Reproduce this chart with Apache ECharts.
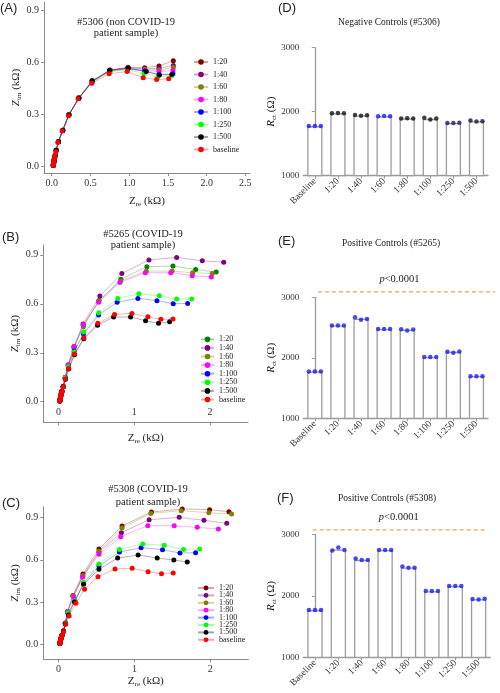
<!DOCTYPE html>
<html><head><meta charset="utf-8">
<script src="https://cdn.jsdelivr.net/npm/echarts@6/dist/echarts.min.js"></script>
<style>html,body{margin:0;padding:0;background:#fff}#c{width:500px;height:693px}</style>
</head><body><div id="c"></div>
<script>
// ---------------- DATA ----------------
const dilutions = ['1:20','1:40','1:60','1:80','1:100','1:250','1:500','baseline'];
const barCategories = ['Baseline','1:20','1:40','1:60','1:80','1:100','1:250','1:500'];

// Panel A (#5306) Nyquist: Zre / Zim (kOhm), one row per dilution
const aZre = [
 [0.02,0.022,0.025,0.028,0.032,0.037,0.045,0.058,0.087,0.142,0.222,0.35,0.52,0.755,0.985,1.2,1.385,1.57],
 [0.02,0.022,0.025,0.028,0.032,0.037,0.045,0.058,0.087,0.142,0.222,0.35,0.52,0.755,0.985,1.2,1.385,1.57],
 [0.02,0.022,0.025,0.028,0.032,0.037,0.045,0.058,0.087,0.142,0.222,0.35,0.52,0.755,0.985,1.2,1.385,1.57],
 [0.02,0.022,0.025,0.028,0.032,0.037,0.045,0.058,0.087,0.142,0.222,0.35,0.52,0.755,0.985,1.2,1.385,1.565],
 [0.02,0.022,0.025,0.028,0.032,0.037,0.045,0.058,0.087,0.142,0.222,0.35,0.522,0.75,0.98,1.2,1.385,1.565],
 [0.02,0.022,0.025,0.028,0.032,0.037,0.045,0.058,0.087,0.142,0.222,0.35,0.52,0.755,0.98,1.19,1.37,1.55],
 [0.02,0.022,0.025,0.028,0.032,0.037,0.045,0.058,0.087,0.142,0.222,0.35,0.522,0.746,0.987,1.22,1.39,1.55],
 [0.018,0.02,0.023,0.026,0.03,0.035,0.042,0.052,0.078,0.134,0.216,0.34,0.517,0.741,0.974,1.181,1.354,1.51]
];
const aZim = [
 [0.004,0.01,0.018,0.027,0.037,0.048,0.062,0.092,0.142,0.208,0.298,0.395,0.49,0.556,0.572,0.57,0.58,0.61],
 [0.004,0.01,0.018,0.027,0.037,0.048,0.062,0.092,0.142,0.207,0.297,0.394,0.49,0.555,0.57,0.563,0.566,0.582],
 [0.004,0.01,0.018,0.027,0.037,0.048,0.062,0.092,0.141,0.206,0.296,0.393,0.489,0.554,0.568,0.56,0.556,0.571],
 [0.004,0.01,0.018,0.027,0.037,0.048,0.062,0.092,0.141,0.206,0.296,0.393,0.488,0.552,0.565,0.553,0.548,0.553],
 [0.004,0.01,0.018,0.027,0.037,0.048,0.062,0.092,0.142,0.208,0.298,0.396,0.49,0.552,0.563,0.55,0.53,0.534],
 [0.004,0.01,0.018,0.027,0.037,0.048,0.062,0.092,0.141,0.206,0.297,0.394,0.487,0.548,0.558,0.535,0.516,0.524],
 [0.004,0.01,0.018,0.027,0.037,0.048,0.062,0.092,0.141,0.206,0.296,0.393,0.495,0.555,0.567,0.547,0.528,0.53],
 [0.003,0.009,0.017,0.026,0.036,0.047,0.06,0.083,0.137,0.203,0.292,0.39,0.48,0.534,0.547,0.512,0.501,0.505]
];

// Panel B (#5265)
const bZre = [
 [0.018,0.021,0.025,0.029,0.034,0.04,0.046,0.065,0.09,0.13,0.205,0.33,0.535,0.823,1.166,1.51,1.81,2.08],
 [0.018,0.021,0.025,0.029,0.034,0.04,0.046,0.065,0.09,0.13,0.205,0.325,0.546,0.836,1.193,1.559,1.897,2.18],
 [0.018,0.021,0.025,0.029,0.034,0.04,0.046,0.065,0.09,0.13,0.205,0.328,0.53,0.82,1.16,1.5,1.77,2.03],
 [0.018,0.021,0.025,0.029,0.034,0.04,0.046,0.065,0.09,0.127,0.206,0.325,0.53,0.81,1.145,1.48,1.765,2.016],
 [0.018,0.021,0.025,0.029,0.034,0.04,0.046,0.063,0.088,0.13,0.206,0.33,0.529,0.774,1.048,1.299,1.514,1.704],
 [0.018,0.021,0.025,0.029,0.034,0.04,0.046,0.063,0.088,0.13,0.206,0.334,0.532,0.783,1.061,1.33,1.559,1.757],
 [0.018,0.021,0.025,0.029,0.034,0.04,0.046,0.061,0.092,0.136,0.211,0.334,0.515,0.727,0.951,1.149,1.32,1.466],
 [0.018,0.021,0.025,0.029,0.034,0.04,0.046,0.061,0.09,0.135,0.21,0.335,0.519,0.74,0.968,1.18,1.351,1.51]
];
const bZim = [
 [0.004,0.012,0.022,0.032,0.043,0.054,0.064,0.094,0.148,0.222,0.33,0.465,0.62,0.75,0.827,0.831,0.81,0.794],
 [0.004,0.012,0.022,0.032,0.043,0.054,0.064,0.095,0.15,0.225,0.338,0.476,0.647,0.786,0.868,0.884,0.863,0.855],
 [0.004,0.012,0.022,0.032,0.043,0.054,0.064,0.094,0.149,0.224,0.334,0.46,0.615,0.74,0.8,0.8,0.79,0.785],
 [0.004,0.012,0.022,0.032,0.043,0.054,0.064,0.094,0.149,0.227,0.337,0.472,0.61,0.731,0.79,0.79,0.772,0.764],
 [0.004,0.012,0.022,0.032,0.043,0.054,0.064,0.092,0.144,0.213,0.31,0.415,0.531,0.61,0.633,0.619,0.6,0.602],
 [0.004,0.012,0.022,0.032,0.043,0.054,0.064,0.092,0.145,0.215,0.304,0.427,0.545,0.633,0.661,0.649,0.629,0.629],
 [0.004,0.012,0.022,0.032,0.043,0.054,0.064,0.092,0.137,0.2,0.288,0.386,0.468,0.519,0.519,0.496,0.48,0.49],
 [0.004,0.012,0.022,0.032,0.043,0.054,0.064,0.09,0.138,0.203,0.292,0.39,0.48,0.535,0.541,0.52,0.505,0.506]
];

// Panel C (#5308)
const cZre = [
 [0.018,0.021,0.025,0.029,0.034,0.04,0.046,0.066,0.09,0.12,0.19,0.322,0.533,0.837,1.225,1.63,1.99,2.245],
 [0.018,0.021,0.025,0.029,0.034,0.04,0.046,0.066,0.09,0.12,0.195,0.32,0.533,0.829,1.194,1.59,1.916,2.216],
 [0.018,0.021,0.025,0.029,0.034,0.04,0.046,0.066,0.09,0.12,0.19,0.322,0.533,0.837,1.216,1.617,1.98,2.28],
 [0.018,0.021,0.025,0.029,0.034,0.04,0.046,0.066,0.09,0.12,0.2,0.317,0.533,0.82,1.176,1.524,1.828,2.106],
 [0.018,0.021,0.025,0.029,0.034,0.04,0.046,0.066,0.09,0.125,0.215,0.33,0.533,0.802,1.088,1.37,1.6,1.806],
 [0.018,0.021,0.025,0.029,0.034,0.04,0.046,0.066,0.09,0.125,0.22,0.33,0.533,0.802,1.11,1.392,1.647,1.859],
 [0.018,0.021,0.025,0.029,0.034,0.04,0.046,0.066,0.09,0.132,0.21,0.33,0.533,0.779,1.049,1.3,1.519,1.696],
 [0.018,0.021,0.025,0.029,0.034,0.04,0.046,0.068,0.095,0.14,0.23,0.343,0.52,0.745,0.97,1.18,1.357,1.511]
];
const cZim = [
 [0.003,0.011,0.021,0.031,0.042,0.052,0.062,0.095,0.15,0.232,0.345,0.499,0.677,0.84,0.94,0.962,0.957,0.942],
 [0.003,0.011,0.021,0.031,0.042,0.052,0.062,0.095,0.148,0.23,0.34,0.48,0.655,0.793,0.885,0.902,0.881,0.86],
 [0.003,0.011,0.021,0.031,0.042,0.052,0.062,0.095,0.15,0.232,0.344,0.487,0.66,0.826,0.93,0.95,0.935,0.926],
 [0.003,0.011,0.021,0.031,0.042,0.052,0.062,0.094,0.148,0.228,0.335,0.475,0.639,0.764,0.843,0.843,0.831,0.819],
 [0.003,0.011,0.021,0.031,0.042,0.052,0.062,0.092,0.145,0.217,0.305,0.432,0.556,0.655,0.686,0.672,0.648,0.65],
 [0.003,0.011,0.021,0.031,0.042,0.052,0.062,0.093,0.146,0.22,0.308,0.44,0.57,0.674,0.712,0.703,0.674,0.677],
 [0.003,0.011,0.021,0.031,0.042,0.052,0.062,0.09,0.143,0.207,0.3,0.425,0.532,0.612,0.634,0.612,0.598,0.584],
 [0.003,0.011,0.021,0.031,0.042,0.052,0.062,0.088,0.14,0.2,0.29,0.39,0.479,0.534,0.539,0.515,0.501,0.506]
];

// Rct bar panels (Ohm)
const dBars = [1775,1975,1942,1930,1895,1888,1825,1852];
const eBars = [1775,2535,2645,2475,2465,2015,2098,1695];
const fBars = [1770,2760,2590,2750,2465,2078,2163,1948];
const dDots = [[1775,1775,1775],[1975,1978,1975],[1950,1935,1945],[1930,1932,1930],[1895,1898,1895],[1905,1880,1892],[1825,1825,1826],[1862,1848,1850]];
const eDots = [[1775,1775,1775],[2535,2535,2535],[2670,2628,2640],[2475,2475,2475],[2472,2452,2466],[2015,2015,2015],[2102,2082,2106],[1695,1695,1695]];
const fDots = [[1770,1770,1770],[2742,2790,2750],[2610,2588,2588],[2750,2750,2750],[2480,2460,2460],[2080,2080,2080],[2165,2165,2165],[1950,1944,1955]];
const pLevels = [3090, 3077]; // dashed significance lines in E and F
const pText = 'p<0.0001';

// ---------------- STYLE ----------------
const serif = "'Liberation Serif','Times New Roman',serif";
const sans = "'Liberation Sans',Arial,sans-serif";
const colorsAC = ['#800000','#800080','#808000','#ff00ff','#0000ff','#00ff00','#000000','#ff0000'];
const colorsB  = ['#008000','#800080','#808000','#ff00ff','#0000ff','#00ff00','#000000','#ff0000'];
const dDotColors = ['#1a1aff','#111','#111','#1a1aff','#111','#111','#1a1a70','#151540'];
const axisGray = '#8a8a8a';
function rgba(hex,a){const n=parseInt(hex.slice(1),16);return `rgba(${n>>16&255},${n>>8&255},${n&255},${a})`;}

const nameRich = {
  n:{fontFamily:serif,fontSize:11,color:'#222'},
  i:{fontFamily:serif,fontSize:11,fontStyle:'italic',color:'#222'},
  s:{fontFamily:serif,fontSize:7,color:'#222',padding:[6,0,0,0]}
};

function valAxis(grid,min,max,ticks,fmt,extra){
  return Object.assign({
    type:'value',gridIndex:grid,min:min,max:max,
    splitLine:{show:false},
    axisLine:{show:true,onZero:false,lineStyle:{color:axisGray,width:1}},
    axisTick:{show:true,length:3,inside:false,customValues:ticks,lineStyle:{color:axisGray}},
    axisLabel:{show:true,customValues:ticks,formatter:fmt,fontFamily:serif,fontSize:10,color:'#333',margin:5,
      showMinLabel:true,showMaxLabel:true,hideOverlap:false}
  },extra||{});
}
const f1 = v=>v.toFixed(1);
const f0 = v=>String(Math.round(v));

const grids = [
  {left:44,top:2,width:206,height:171},          //0 A
  {left:43.3,top:245,width:204.7,height:177.3},  //1 B
  {left:43.3,top:506.7,width:205,height:152.6},  //2 C
  {left:303.3,top:47.7,width:184.7,height:128},  //3 D
  {left:303.3,top:297.3,width:184.7,height:121}, //4 E
  {left:303.3,top:534.7,width:187,height:122.6}, //5 F
  {left:318,top:285.2,width:177,height:12.1},    //6 E annot
  {left:312.7,top:522.4,width:172.3,height:12.3} //7 F annot
].map(g=>Object.assign({outerBoundsMode:'none',containLabel:false},g));

const xAxes = [
  valAxis(0,-0.1,2.56,[0,0.5,1,1.5,2,2.5],f1,{name:'{n|Z}{s|re}{n| (kΩ)}',nameLocation:'middle',nameGap:22,nameTextStyle:{rich:nameRich}}),
  valAxis(1,-0.2,2.5,[0,1,2],f0,{name:'{n|Z}{s|re}{n| (kΩ)}',nameLocation:'middle',nameGap:9,nameTextStyle:{rich:nameRich}}),
  valAxis(2,-0.2,2.5,[0,1,2],f0,{name:'{n|Z}{s|re}{n| (kΩ)}',nameLocation:'middle',nameGap:15,nameTextStyle:{rich:nameRich}})
];
xAxes[1].axisLabel.inside = true;
xAxes[1].axisLabel.margin = 5;

function catAxis(grid){
  return {type:'category',gridIndex:grid,data:barCategories,boundaryGap:true,
    axisLine:{show:true,lineStyle:{color:'#999',width:1.3}},
    axisTick:{show:true,alignWithLabel:true,length:3,lineStyle:{color:'#999'}},
    axisLabel:{rotate:45,fontFamily:serif,fontSize:9.5,color:'#333',margin:4,interval:0},
    splitLine:{show:false}};
}
xAxes.push(catAxis(3),catAxis(4),catAxis(5));
// hidden value axes overlaying each bar grid (category i sits at i) for replicate dots
[3,4,5].forEach(g=>xAxes.push({type:'value',gridIndex:g,min:-0.5,max:7.5,show:false}));
// hidden axes for the significance annotation grids
[6,7].forEach(g=>xAxes.push({type:'value',gridIndex:g,min:0,max:1,show:false}));

const yAxes = [
  valAxis(0,-0.04,0.95,[0,0.3,0.6,0.9],f1,{name:'{i|Z}{s|im}{n| (kΩ)}',nameLocation:'middle',nameGap:6,nameRotate:90,nameTextStyle:{rich:nameRich}}),
  valAxis(1,-0.126,0.96,[0,0.3,0.6,0.9],f1,{name:'{i|Z}{s|im}{n| (kΩ)}',nameLocation:'middle',nameGap:22,nameRotate:90,nameTextStyle:{rich:nameRich}}),
  valAxis(2,-0.109,0.978,[0,0.3,0.6,0.9],f1,{name:'{i|Z}{s|im}{n| (kΩ)}',nameLocation:'middle',nameGap:22,nameRotate:90,nameTextStyle:{rich:nameRich}})
];
function rctAxis(grid){
  return {type:'value',gridIndex:grid,min:1000,max:3000,interval:1000,
    splitLine:{show:false},
    axisLine:{show:true,lineStyle:{color:'#999',width:1.3}},
    axisTick:{show:true,length:3,lineStyle:{color:'#999'}},
    axisLabel:{fontFamily:serif,fontSize:9,color:'#333',margin:4,formatter:f0},
    name:'{i|R}{s|ct}{n| (Ω)}',nameLocation:'middle',nameGap:24,nameRotate:90,
    nameTextStyle:{rich:{
      n:{fontFamily:serif,fontSize:11,color:'#222'},
      i:{fontFamily:serif,fontSize:11,fontStyle:'italic',color:'#222'},
      s:{fontFamily:serif,fontSize:7,color:'#222',padding:[6,0,0,0]}}}};
}
yAxes.push(rctAxis(3),rctAxis(4),rctAxis(5));
[6,7].forEach(g=>yAxes.push({type:'value',gridIndex:g,min:3000,max:3200,show:false}));

// ---------------- SERIES ----------------
const series = [];
const suffix = ['','\u0020','\u0020\u0020'];
const panels = [[aZre,aZim,colorsAC],[bZre,bZim,colorsB],[cZre,cZim,colorsAC]];
panels.forEach(([zre,zim,cols],p)=>{
  dilutions.forEach((nm,i)=>{
    series.push({
      type:'line',name:nm+suffix[p],xAxisIndex:p,yAxisIndex:p,
      data:zre[i].map((x,j)=>[x,zim[i][j]]),
      symbol:'circle',symbolSize:5,showSymbol:true,
      itemStyle:{color:cols[i]},
      lineStyle:{color:rgba(cols[i],0.35),width:0.9},
      emphasis:{disabled:true},z:2+i
    });
  });
});
const bars = [dBars,eBars,fBars];
const dots = [dDots,eDots,fDots];
const offsets = [-0.26,0,0.26];
bars.forEach((b,k)=>{
  series.push({type:'bar',xAxisIndex:3+k,yAxisIndex:3+k,data:b,barWidth:'66%',
    itemStyle:{color:'#fff',borderColor:'#9c9c9c',borderWidth:1.3},z:2});
  const pts=[];
  dots[k].forEach((vals,i)=>vals.forEach((v,j)=>pts.push({value:[i+offsets[j],v],
    itemStyle:{color:k===0?dDotColors[i]:'#1a1aff'}})));
  series.push({type:'scatter',xAxisIndex:6+k,yAxisIndex:3+k,data:pts,symbolSize:4.5,z:5});
});
pLevels.forEach((lvl,k)=>{
  series.push({type:'line',xAxisIndex:9+k,yAxisIndex:6+k,data:[[0,lvl],[1,lvl]],
    symbol:'none',lineStyle:{color:'#f4a460',width:1.2,type:[4,3]},z:3,
    markPoint:{symbol:'circle',symbolSize:0,data:[{coord:[k===0?0.46:0.5,lvl]}],
      label:{show:true,position:'inside',offset:[0,-13],formatter:'{i|p}{n|<0.0001}',
        rich:{i:{fontFamily:serif,fontStyle:'italic',fontSize:10.5,color:'#222'},n:{fontFamily:serif,fontSize:10.5,color:'#222'}}}}
  });
});

// ---------------- LEGENDS ----------------
const legends = [
  {left:193,top:58,itemWidth:14,itemHeight:7,itemGap:4.5,fs:8,p:0},
  {left:200,top:335.3,itemWidth:13,itemHeight:7,itemGap:0.6,fs:8,p:1},
  {left:197,top:584,itemWidth:16,itemHeight:6,itemGap:-0.6,fs:8,p:2}
].map(l=>({orient:'vertical',left:l.left,top:l.top,padding:0,itemWidth:l.itemWidth,itemHeight:l.itemHeight,
  itemGap:l.itemGap,selectedMode:false,data:dilutions.map(n=>n+suffix[l.p]),
  textStyle:{fontFamily:serif,fontSize:l.fs,color:'#222'}}));

// ---------------- TEXT ----------------
function txt(x,y,t,font,align){return {type:'text',x:x,y:y,silent:true,style:{text:t,font:font,fill:'#222',textAlign:align||'center',textVerticalAlign:'middle'}};}
const T = `10.5px ${serif}`, TB = `9.5px ${serif}`, P = `13px ${sans}`;
const graphic = [
  txt(0,8,'(A)',P,'left'), txt(2,237,'(B)',P,'left'), txt(2,503,'(C)',P,'left'),
  txt(278,8,'(D)',P,'left'), txt(278,241,'(E)',P,'left'), txt(277,498,'(F)',P,'left'),
  txt(126,22,'#5306 (non COVID-19',T), txt(126,33.5,'patient sample)',T),
  txt(143,234,'#5265 (COVID-19',T), txt(143,245.5,'patient sample)',T),
  txt(148,489.5,'#5308 (COVID-19',T), txt(148,502,'patient sample)',T),
  txt(389,22,'Negative Controls (#5306)',TB), txt(391,243.5,'Positive Controls (#5265)',TB), txt(387,498,'Positive Controls (#5308)',TB)
];

const chart = echarts.init(document.getElementById('c'),null,{renderer:'canvas'});
chart.setOption({
  animation:false,backgroundColor:'#fff',
  textStyle:{fontFamily:serif},
  grid:grids,xAxis:xAxes,yAxis:yAxes,series:series,legend:legends,graphic:graphic
});
</script></body></html>
